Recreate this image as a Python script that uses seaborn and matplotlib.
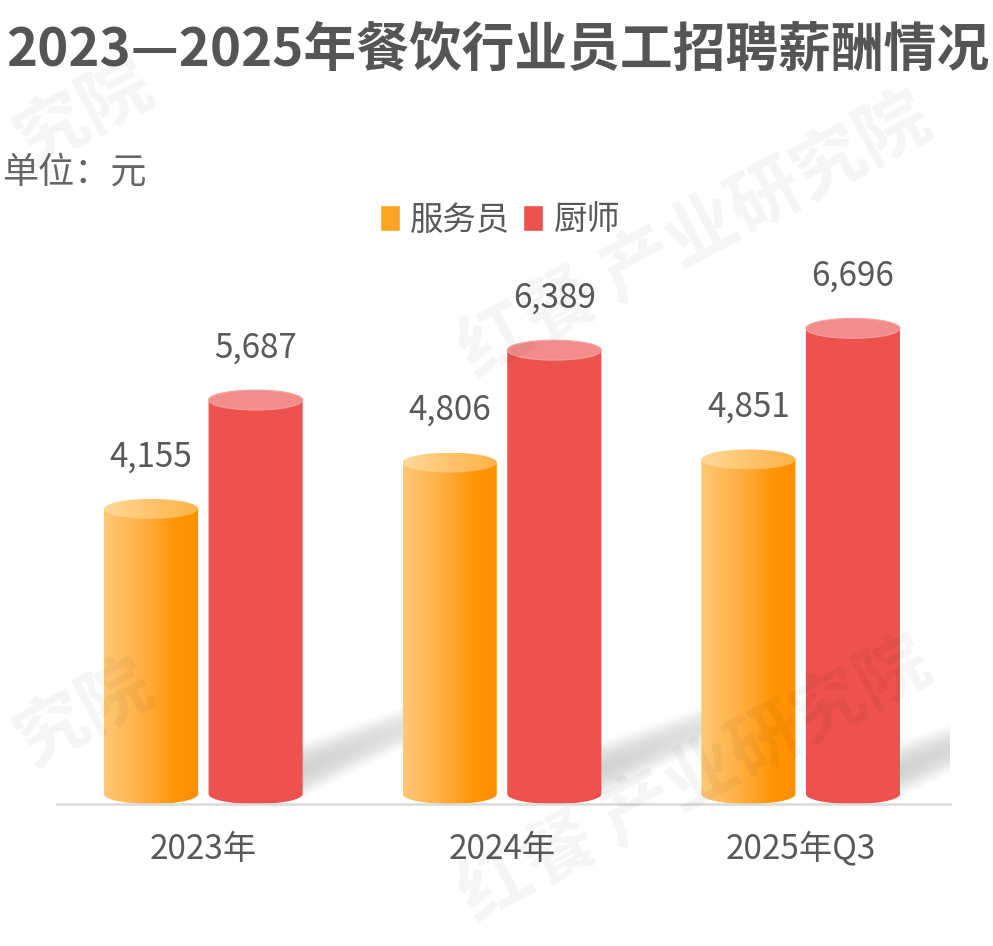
import numpy as np
import pandas as pd
import seaborn as sns
import matplotlib.pyplot as plt
from matplotlib.patches import Ellipse, Polygon, Patch
from matplotlib.colors import LinearSegmentedColormap

# data
years = ['2023年', '2024年', '2025年Q3']
series = ['服务员', '厨师']
waiter = [4155, 4806, 4851]
chef = [5687, 6389, 6696]

title = '2023—2025年餐饮行业员工招聘薪酬情况'
unit = '单位：元'
watermark = '红餐 产业研究院'
watermark_tail = '究院'

df = pd.DataFrame({
    'year': years * 2,
    'job': [series[0]] * len(years) + [series[1]] * len(years),
    'salary': waiter + chef,
})

sns.set_theme(style='white')
plt.rcParams['font.family'] = ['Noto Sans CJK SC', 'DejaVu Sans']

orange = '#FF9A10'
red = '#EE524E'
txt = '#595959'

fig = plt.figure(figsize=(9.93, 9.46), dpi=100)
ax = fig.add_axes([57 / 993, 142 / 946, 893 / 993, 554.1 / 946])

sns.barplot(data=df, x='year', y='salary', hue='job', palette=[orange, red],
            width=0.7, gap=0.1, ax=ax, legend=False)

ymax = 7800
eh = 280          # ellipse height of the cylinder caps (data units)
ax.set_xlim(-0.49, 2.5)
ax.set_ylim(0, ymax)

body_cmap = LinearSegmentedColormap.from_list(
    'ob', [(0, '#FFC877'), (0.45, '#FFAC3C'), (0.75, '#FF9505'), (1, '#FF8F00')])
cap_cmap = LinearSegmentedColormap.from_list(
    'oc', [(0, '#FFD99A'), (0.6, '#FFC064'), (1, '#FFB448')])
grad = np.linspace(0, 1, 256).reshape(1, -1)


def body_outline(x0, w, h):
    cx = x0 + w / 2
    t = np.linspace(np.pi, 2 * np.pi, 60)
    arc = np.column_stack([cx + w / 2 * np.cos(t), eh / 2 + eh / 2 * np.sin(t)])
    pts = [(x0, h)] + arc.tolist() + [(x0 + w, h)]
    return pts


# soft cast shadows behind the chef cylinders
for bar in ax.containers[1]:
    x0 = bar.get_x() + bar.get_width() - 0.03
    x1 = x0 + 0.4
    xs = np.linspace(x0, x1, 200)
    ys = np.linspace(0, 1800, 200)
    X, Y = np.meshgrid(xs, ys)
    u = np.clip(X - (x0 + 0.03), 0, None)
    lo = 60 + 2100 * u
    hi = 900 + 1450 * u
    tt = np.clip((Y - lo) / (hi - lo), 0, 1)
    a = np.sin(np.pi * tt) ** 1.2 * 0.4 * (1 - 0.35 * u / 0.37)
    img = np.zeros((200, 200, 4))
    img[..., :3] = 0.56
    img[..., 3] = np.clip(a, 0, 1)
    ax.imshow(img, extent=[x0, x1, 0, 1800], origin='lower', aspect='auto',
              zorder=1, interpolation='bilinear')

# waiter: orange gradient cylinders
for bar in ax.containers[0]:
    x0, w, h = bar.get_x(), bar.get_width(), bar.get_height()
    bar.set_visible(False)
    outline = Polygon(body_outline(x0, w, h), closed=True, facecolor='none',
                      edgecolor='none', transform=ax.transData)
    ax.add_patch(outline)
    im = ax.imshow(grad, extent=[x0, x0 + w, 0, h], cmap=body_cmap,
                   aspect='auto', zorder=2, interpolation='bilinear')
    im.set_clip_path(outline)
    cap = Ellipse((x0 + w / 2, h), w, eh, facecolor='none', edgecolor='none')
    ax.add_patch(cap)
    imc = ax.imshow(grad, extent=[x0, x0 + w, h - eh / 2, h + eh / 2],
                    cmap=cap_cmap, aspect='auto', zorder=3,
                    interpolation='bilinear')
    imc.set_clip_path(cap)

# chef: flat red cylinders
for bar in ax.containers[1]:
    x0, w, h = bar.get_x(), bar.get_width(), bar.get_height()
    bar.set_visible(False)
    ax.add_patch(Polygon(body_outline(x0, w, h), closed=True, facecolor=red,
                         edgecolor='none', zorder=2))
    ax.add_patch(Ellipse((x0 + w / 2, h), w, eh, facecolor='#F28D8C',
                         edgecolor='#F4A3A2', lw=0.8, zorder=3))

ax.set_xlim(-0.49, 2.5)
ax.set_ylim(0, ymax)

# value labels
for cont, vals in zip(ax.containers, [waiter, chef]):
    for bar, v in zip(cont, vals):
        ax.text(bar.get_x() + bar.get_width() / 2, v + 735, f'{v:,}',
                ha='center', va='center', fontsize=24, color=txt)

sns.despine(ax=ax, left=True, top=True, right=True)
ax.spines['bottom'].set_color('#D9D9D9')
ax.spines['bottom'].set_linewidth(1.8)
ax.set_yticks([])
ax.set_xlabel('')
ax.set_ylabel('')
ax.tick_params(axis='x', length=0, pad=20, labelsize=24, labelcolor=txt)

handles = [Patch(facecolor='#FFA324'), Patch(facecolor=red)]
fig.legend(handles, series, loc='center', bbox_to_anchor=(0.5035, 0.7674),
           ncol=2, frameon=False, fontsize=24, handlelength=0.6,
           handleheight=0.8, handletextpad=0.3, columnspacing=0.4,
           labelcolor=txt)

fig.text(0.501, 1 - 50 / 946, title, ha='center', va='center', fontsize=38,
         weight='bold', color='#555555')
fig.text(0.002, 1 - 173 / 946, unit, ha='left', va='center', fontsize=26,
         color='#666666')

# faint watermark
for (wx, wy) in [(0.70, 0.75), (0.70, 0.175)]:
    fig.text(wx, wy, watermark, ha='center', va='center', rotation=28,
             fontsize=52, weight='bold', color='#000000', alpha=0.045)
for (wx, wy) in [(0.085, 0.88), (0.085, 0.245)]:
    fig.text(wx, wy, watermark_tail, ha='center', va='center', rotation=28,
             fontsize=52, weight='bold', color='#000000', alpha=0.045)

fig.savefig('out.png', dpi=100)
